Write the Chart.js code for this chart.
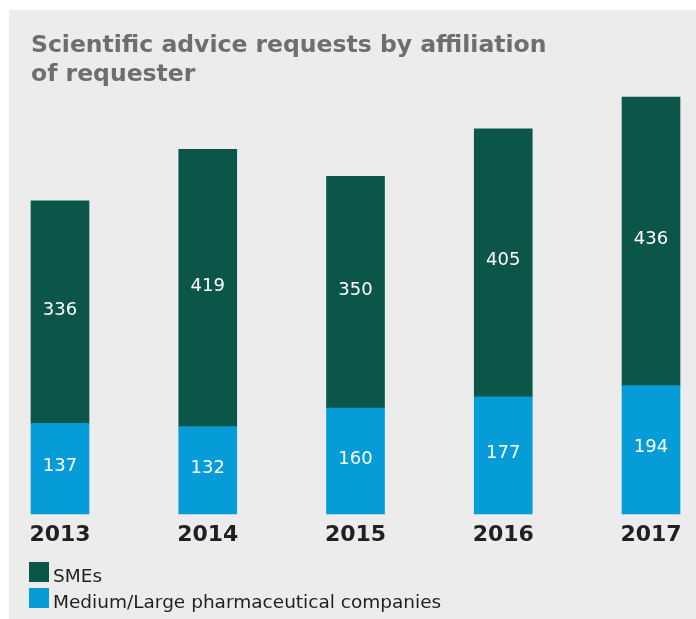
<!DOCTYPE html>
<html>
<head>
<meta charset="utf-8">
<script src="https://cdn.jsdelivr.net/npm/chart.js@4/dist/chart.umd.min.js"></script>
<style>
  html, body { margin: 0; padding: 0; background: #ffffff; }
  #wrap { position: relative; width: 696px; height: 619px; }
</style>
</head>
<body>
<div id="wrap"><canvas id="chart" width="696" height="619"></canvas></div>
<script>
// chart data
const years = ["2013", "2014", "2015", "2016", "2017"];
const smes = [336, 419, 350, 405, 436];
const mediumLarge = [137, 132, 160, 177, 194];
const titleLines = ["Scientific advice requests by affiliation", "of requester"];

const GREEN = "#0b5648";
const BLUE = "#069cd8";
const TEXT_DARK = "#231f20";

// grey panel + title
const panelPlugin = {
    id: "panel",
    beforeDraw(chart) {
        const ctx = chart.ctx;
        ctx.save();
        ctx.fillStyle = "#ececec";
        ctx.fillRect(9, 10, chart.width - 9, chart.height - 10);
        ctx.fillStyle = "#6d6e71";
        ctx.font = "bold 23.5px 'DejaVu Sans', Verdana, sans-serif";
        ctx.textBaseline = "alphabetic";
        ctx.textAlign = "left";
        titleLines.forEach((line, i) => ctx.fillText(line, 31, 52 + i * 29));
        ctx.restore();
    }
};

// white numbers in the middle of each segment
const valueLabels = {
    id: "valueLabels",
    afterDatasetsDraw(chart) {
        const ctx = chart.ctx;
        ctx.save();
        ctx.fillStyle = "#ffffff";
        ctx.font = "18px 'DejaVu Sans', Verdana, sans-serif";
        ctx.textAlign = "center";
        ctx.textBaseline = "middle";
        chart.data.datasets.forEach((ds, i) => {
            chart.getDatasetMeta(i).data.forEach((bar, j) => {
                const mid = (bar.y + bar.base) / 2;
                ctx.fillText(String(ds.data[j]), bar.x, mid - 2);
            });
        });
        ctx.restore();
    }
};

// legend stacked vertically at the bottom left
const stackedLegend = {
    id: "stackedLegend",
    afterDraw(chart) {
        const ctx = chart.ctx;
        const items = chart.data.datasets.slice().reverse();
        ctx.save();
        ctx.font = "18.5px 'DejaVu Sans', Verdana, sans-serif";
        ctx.textAlign = "left";
        ctx.textBaseline = "alphabetic";
        items.forEach((ds, i) => {
            const top = 562 + i * 26;
            ctx.fillStyle = ds.backgroundColor;
            ctx.fillRect(29, top, 20, 20);
            ctx.fillStyle = TEXT_DARK;
            ctx.fillText(ds.label, 53, top + 20);
        });
        ctx.restore();
    }
};

new Chart(document.getElementById("chart"), {
    type: "bar",
    data: {
        labels: years,
        datasets: [
            {
                label: "Medium/Large pharmaceutical companies",
                data: mediumLarge,
                backgroundColor: BLUE,
                barThickness: 58,
                clip: false
            },
            {
                label: "SMEs",
                data: smes,
                backgroundColor: GREEN,
                barThickness: 58,
                clip: false
            }
        ]
    },
    options: {
        responsive: false,
        animation: false,
        layout: { padding: { left: 60, right: 45, top: 97, bottom: 65 } },
        plugins: {
            legend: { display: false },
            title: { display: false },
            tooltip: { enabled: false }
        },
        scales: {
            x: {
                stacked: true,
                offset: false,
                grid: { display: false, drawTicks: false },
                border: { display: false },
                ticks: {
                    color: TEXT_DARK,
                    padding: 8,
                    maxRotation: 0,
                    font: { family: "'DejaVu Sans', Verdana, sans-serif", size: 22, weight: "bold" }
                },
                afterFit(scale) { scale.height = 40; }
            },
            y: {
                stacked: true,
                display: false,
                min: 0,
                max: 630
            }
        }
    },
    plugins: [panelPlugin, valueLabels, stackedLegend]
});
</script>
</body>
</html>
